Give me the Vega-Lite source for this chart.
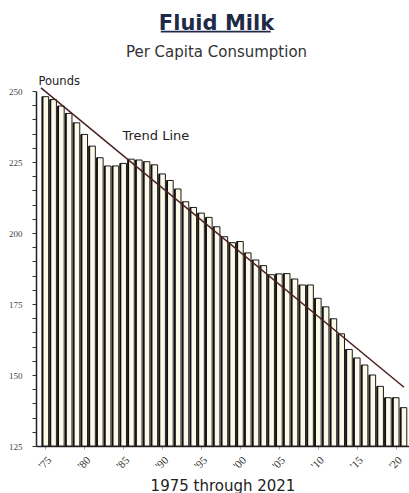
{
  "$schema": "https://vega.github.io/schema/vega-lite/v6.json",
  "width": 373,
  "height": 355,
  "autosize": "none",
  "padding": {"left": 36, "top": 91, "right": 0, "bottom": 47},
  "background": "white",
  "config": {"view": {"stroke": null}, "font": "DejaVu Sans"},
  "title": {
    "text": "Fluid Milk",
    "subtitle": "Per Capita Consumption",
    "anchor": "middle",
    "frame": "group",
    "dx": -6,
    "offset": -29,
    "font": "DejaVu Sans",
    "fontSize": 21,
    "fontWeight": "bold",
    "color": "#1f2a48",
    "subtitleFont": "DejaVu Sans",
    "subtitleFontSize": 15,
    "subtitleColor": "#333333",
    "subtitlePadding": 11
  },
  "resolve": {"axis": {"y": "independent"}},
  "datasets": {
    "milk": [
      {"year": 1975, "value": 248},
      {"year": 1976, "value": 247},
      {"year": 1977, "value": 244.7},
      {"year": 1978, "value": 242.1},
      {"year": 1979, "value": 238.8},
      {"year": 1980, "value": 234.7},
      {"year": 1981, "value": 230.6},
      {"year": 1982, "value": 226.5},
      {"year": 1983, "value": 223.6},
      {"year": 1984, "value": 223.6},
      {"year": 1985, "value": 224.5},
      {"year": 1986, "value": 226},
      {"year": 1987, "value": 225.7},
      {"year": 1988, "value": 225.1},
      {"year": 1989, "value": 224},
      {"year": 1990, "value": 220.8},
      {"year": 1991, "value": 218.5},
      {"year": 1992, "value": 215.5},
      {"year": 1993, "value": 211},
      {"year": 1994, "value": 209},
      {"year": 1995, "value": 207},
      {"year": 1996, "value": 205.5},
      {"year": 1997, "value": 202.2},
      {"year": 1998, "value": 198.7},
      {"year": 1999, "value": 196.6},
      {"year": 2000, "value": 197},
      {"year": 2001, "value": 193},
      {"year": 2002, "value": 190.5},
      {"year": 2003, "value": 188.5},
      {"year": 2004, "value": 185.3},
      {"year": 2005, "value": 185.6},
      {"year": 2006, "value": 185.7},
      {"year": 2007, "value": 183.8},
      {"year": 2008, "value": 181.7},
      {"year": 2009, "value": 181.7},
      {"year": 2010, "value": 177},
      {"year": 2011, "value": 174},
      {"year": 2012, "value": 169.8},
      {"year": 2013, "value": 164.5},
      {"year": 2014, "value": 159},
      {"year": 2015, "value": 156},
      {"year": 2016, "value": 153.5},
      {"year": 2017, "value": 150},
      {"year": 2018, "value": 146},
      {"year": 2019, "value": 142},
      {"year": 2020, "value": 142},
      {"year": 2021, "value": 138.5}
    ],
    "trend": [
      {"year": 1974.44, "value": 251.1},
      {"year": 2021.06, "value": 145.7}
    ]
  },
  "layer": [
    {
      "data": {"name": "milk"},
      "mark": {"type": "bar", "width": 6.5, "fill": "#fdf9e8", "stroke": "#1a1a1a", "strokeWidth": 1, "clip": true},
      "encoding": {
        "x": {
          "field": "year",
          "type": "quantitative",
          "title": "1975 through 2021",
          "scale": {"domain": [1974.44, 2021.06], "nice": false, "zero": false},
          "axis": {
            "values": [1975, 1980, 1985, 1990, 1995, 2000, 2005, 2010, 2015, 2020],
            "format": "d",
            "labelExpr": "\"'\" + substring(datum.label, 2, 4)",
            "labelAngle": -45,
            "labelFlush": false,
            "labelOverlap": false,
            "labelFont": "Liberation Serif",
            "labelFontSize": 11,
            "labelColor": "#333333",
            "labelPadding": 5,
            "tickSize": 3,
            "tickColor": "#aaaaaa",
            "domainColor": "#222222",
            "domainWidth": 1.5,
            "grid": false,
            "titleFont": "DejaVu Sans",
            "titleFontSize": 15,
            "titleFontWeight": "normal",
            "titleColor": "#222222",
            "titleY": 44,
            "titleBaseline": "alphabetic"
          }
        },
        "y": {
          "field": "value",
          "type": "quantitative",
          "title": "Pounds",
          "scale": {"domain": [125, 250], "nice": false, "zero": false},
          "axis": {
            "orient": "left",
            "values": [125, 150, 175, 200, 225, 250],
            "labelOverlap": false,
            "labelFlush": false,
            "labelFont": "Liberation Serif",
            "labelFontSize": 9,
            "labelColor": "#444444",
            "labelPadding": 10,
            "tickSize": 4,
            "tickColor": "#333333",
            "domainColor": "#222222",
            "domainWidth": 1.5,
            "grid": false,
            "titleAngle": 0,
            "titleAlign": "left",
            "titleBaseline": "middle",
            "titleX": 2,
            "titleY": -10,
            "titleFont": "DejaVu Sans",
            "titleFontSize": 11.5,
            "titleFontWeight": "normal",
            "titleColor": "#222222"
          }
        },
        "y2": {"datum": 125}
      }
    },
    {
      "data": {"name": "milk"},
      "mark": {"type": "rule", "xOffset": -2.8, "strokeWidth": 1.8, "color": "#111111", "clip": true},
      "encoding": {
        "x": {"field": "year", "type": "quantitative"},
        "y": {
          "field": "value",
          "type": "quantitative",
          "axis": {
            "orient": "left",
            "title": null,
            "values": [130, 135, 140, 145, 155, 160, 165, 170, 180, 185, 190, 195, 205, 210, 215, 220, 230, 235, 240, 245],
            "labels": false,
            "domain": false,
            "grid": false,
            "tickSize": 4,
            "tickColor": "#333333"
          }
        },
        "y2": {"datum": 125}
      }
    },
    {
      "data": {"name": "trend"},
      "mark": {"type": "line", "color": "#4a1f1f", "strokeWidth": 1.5},
      "encoding": {
        "x": {"field": "year", "type": "quantitative"},
        "y": {"field": "value", "type": "quantitative", "axis": null}
      }
    },
    {
      "data": {"values": [{}]},
      "mark": {"type": "text", "text": "Trend Line", "align": "left", "baseline": "middle", "font": "DejaVu Sans", "fontSize": 13, "color": "#222222"},
      "encoding": {
        "x": {"datum": 1984.9, "type": "quantitative"},
        "y": {"datum": 234.2, "type": "quantitative", "axis": null}
      }
    },
    {
      "data": {"values": [{}]},
      "mark": {"type": "rule", "color": "#1f2a48", "strokeWidth": 1.8},
      "encoding": {
        "x": {"datum": 1989.82, "type": "quantitative"},
        "x2": {"datum": 2003.94},
        "y": {"datum": 270.9, "type": "quantitative", "axis": null}
      }
    }
  ]
}
